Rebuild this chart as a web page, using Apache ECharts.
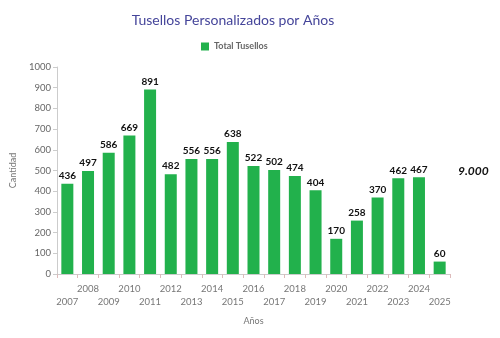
<!DOCTYPE html>
<html><head><meta charset="utf-8">
<script src="https://cdn.jsdelivr.net/npm/echarts@6/dist/echarts.min.js"></script>
<style>html,body{margin:0;padding:0;background:#fff}#c{width:500px;height:338px}</style>
</head><body><div id="c"></div>
<script>
var years = ['2007','2008','2009','2010','2011','2012','2013','2014','2015','2016','2017','2018','2019','2020','2021','2022','2023','2024','2025'];
var totals = [436,497,586,669,891,482,556,556,638,522,502,474,404,170,258,370,462,467,60];
var yTicks = [0,100,200,300,400,500,600,700,800,900,1000];
var totalNote = '9.000';
var F = 'Lato, "Open Sans", sans-serif';
var chart = echarts.init(document.getElementById('c'));
chart.setOption({
  animation:false,
  backgroundColor:'#fff',
  title:{text:'Tusellos Personalizados por Años',left:228,top:8,textAlign:'center',
    textStyle:{color:'#45459a',fontSize:14,fontWeight:'normal',fontFamily:F}},
  legend:{data:['Total Tusellos'],left:196,top:37,itemWidth:8,itemHeight:8,itemGap:4,
    icon:'rect',textStyle:{color:'#666',fontSize:9,fontWeight:'bold',fontFamily:F}},
  graphic:[{type:'text',left:458,top:165,style:{text:totalNote,fill:'#111',
    font:'italic bold 12px '+F}}],
  grid:{left:57,right:50,top:67,bottom:64},
  xAxis:{type:'category',data:years,name:'Años',nameLocation:'middle',nameGap:43,
    nameTextStyle:{color:'#777',fontSize:9,fontFamily:F},
    axisLine:{lineStyle:{color:'#ccc'}},
    axisTick:{show:true,length:4,lineStyle:{color:'#dbb'}},
    axisLabel:{interval:0,color:'#777',fontSize:9.5,fontFamily:F,lineHeight:13,margin:8,
      formatter:function(v,i){return i%2===0?'\n'+v:v;}}},
  yAxis:{type:'value',min:yTicks[0],max:yTicks[yTicks.length-1],interval:100,
    name:'Cantidad',nameLocation:'middle',nameGap:36,
    nameTextStyle:{color:'#777',fontSize:9,fontFamily:F},
    axisLine:{show:true,lineStyle:{color:'#ccc'}},
    axisTick:{show:true,length:4,lineStyle:{color:'#ccc'}},
    splitLine:{show:false},
    axisLabel:{color:'#666',fontSize:9.5,fontFamily:F,margin:6,
      formatter:function(v){return String(v);}}},
  series:[{name:'Total Tusellos',type:'bar',data:totals,barWidth:12,
    itemStyle:{color:'#22b14c'},
    label:{show:true,position:'top',distance:3,color:'#111',fontSize:10,fontWeight:'bold',fontFamily:F}}]
});
</script></body></html>
